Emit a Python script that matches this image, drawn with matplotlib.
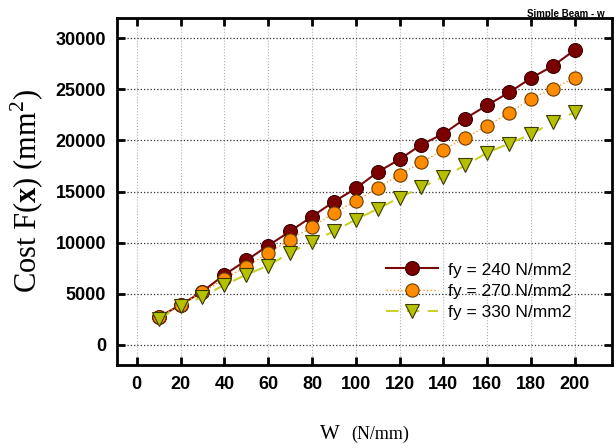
import numpy as np
import matplotlib.pyplot as plt

plt.rcParams['mathtext.fontset'] = 'custom'
plt.rcParams['mathtext.rm'] = 'Liberation Serif'
plt.rcParams['mathtext.bf'] = 'Liberation Serif:bold'

# load W (N/mm) and cost values
w = [10, 20, 30, 40, 50, 60, 70, 80, 90, 100,
     110, 120, 130, 140, 150, 160, 170, 180, 190, 200]
cost_240 = [2700, 3900, 5200, 6850, 8250, 9700, 11100, 12550, 14000, 15300,
            16900, 18150, 19600, 20650, 22150, 23450, 24700, 26100, 27300, 28850]
cost_270 = [2700, 3880, 5150, 6450, 7650, 8950, 10300, 11500, 12900, 14050,
            15350, 16650, 17850, 19100, 20250, 21450, 22700, 24100, 25050, 26150]
cost_330 = [2550, 3750, 4700, 5850, 6850, 7750, 9000, 10100, 11100, 12250,
            13300, 14400, 15400, 16450, 17550, 18800, 19700, 20600, 21800, 22750]
labels = ['fy = 240 N/mm2', 'fy = 270 N/mm2', 'fy = 330 N/mm2']

fig = plt.figure(figsize=(6.16, 4.48), dpi=100)
ax = fig.add_axes([0.190, 0.185, 0.8035, 0.775])

ax.plot(w, cost_240, color='#7a0a0a', lw=1.5, marker='o', ms=10,
        mfc='#7a0000', mec='#3a0000', mew=0.8, label=labels[0])
ax.plot(w, cost_270, color='#ff9a2a', lw=1.0, ls=':', marker='o', ms=9.5,
        mfc='#ff8c00', mec='#6a3a00', mew=0.8, label=labels[1])
ax.plot(w, cost_330, color='#c8d22a', lw=1.5, ls=(0, (6, 4)), marker='v', ms=10,
        mfc='#b4c000', mec='#3a3a00', mew=0.8, label=labels[2])

ax.set_xlim(-9, 217)
ax.set_ylim(-2000, 32000)
ax.set_xticks(np.arange(0, 201, 20))
ax.set_yticks(np.arange(0, 30001, 5000))

ax.xaxis.grid(True, color='#b0b0b0', ls=':', lw=0.8)
ax.yaxis.grid(True, color='#333333', ls=':', lw=0.9)

for s in ax.spines.values():
    s.set_linewidth(2)
ax.tick_params(direction='in', length=6, width=2, top=True, right=True,
               labelsize=13, pad=8)
for t in ax.get_xticklabels() + ax.get_yticklabels():
    t.set_fontweight('bold')
    t.set_family('Liberation Sans')

ax.set_ylabel(r'Cost F($\mathbf{x}$) (mm$^2$)', family='Liberation Serif',
              fontsize=22, labelpad=7)
fig.text(0.552, 0.02, 'W', family='Liberation Serif', fontsize=15, ha='right')
fig.text(0.571, 0.02, '(N/mm)', family='Liberation Serif', fontsize=13, ha='left')
fig.text(0.856, 0.963, 'Simple Beam - w', family='Liberation Sans',
         fontsize=7, fontweight='bold', ha='left')

ax.legend(loc='lower right', bbox_to_anchor=(0.935, 0.105), frameon=False,
          handlelength=3, handletextpad=0.55, labelspacing=0.35, borderpad=0,
          prop={'family': 'Liberation Sans', 'size': 12.5})

fig.savefig('out.png', dpi=100)
